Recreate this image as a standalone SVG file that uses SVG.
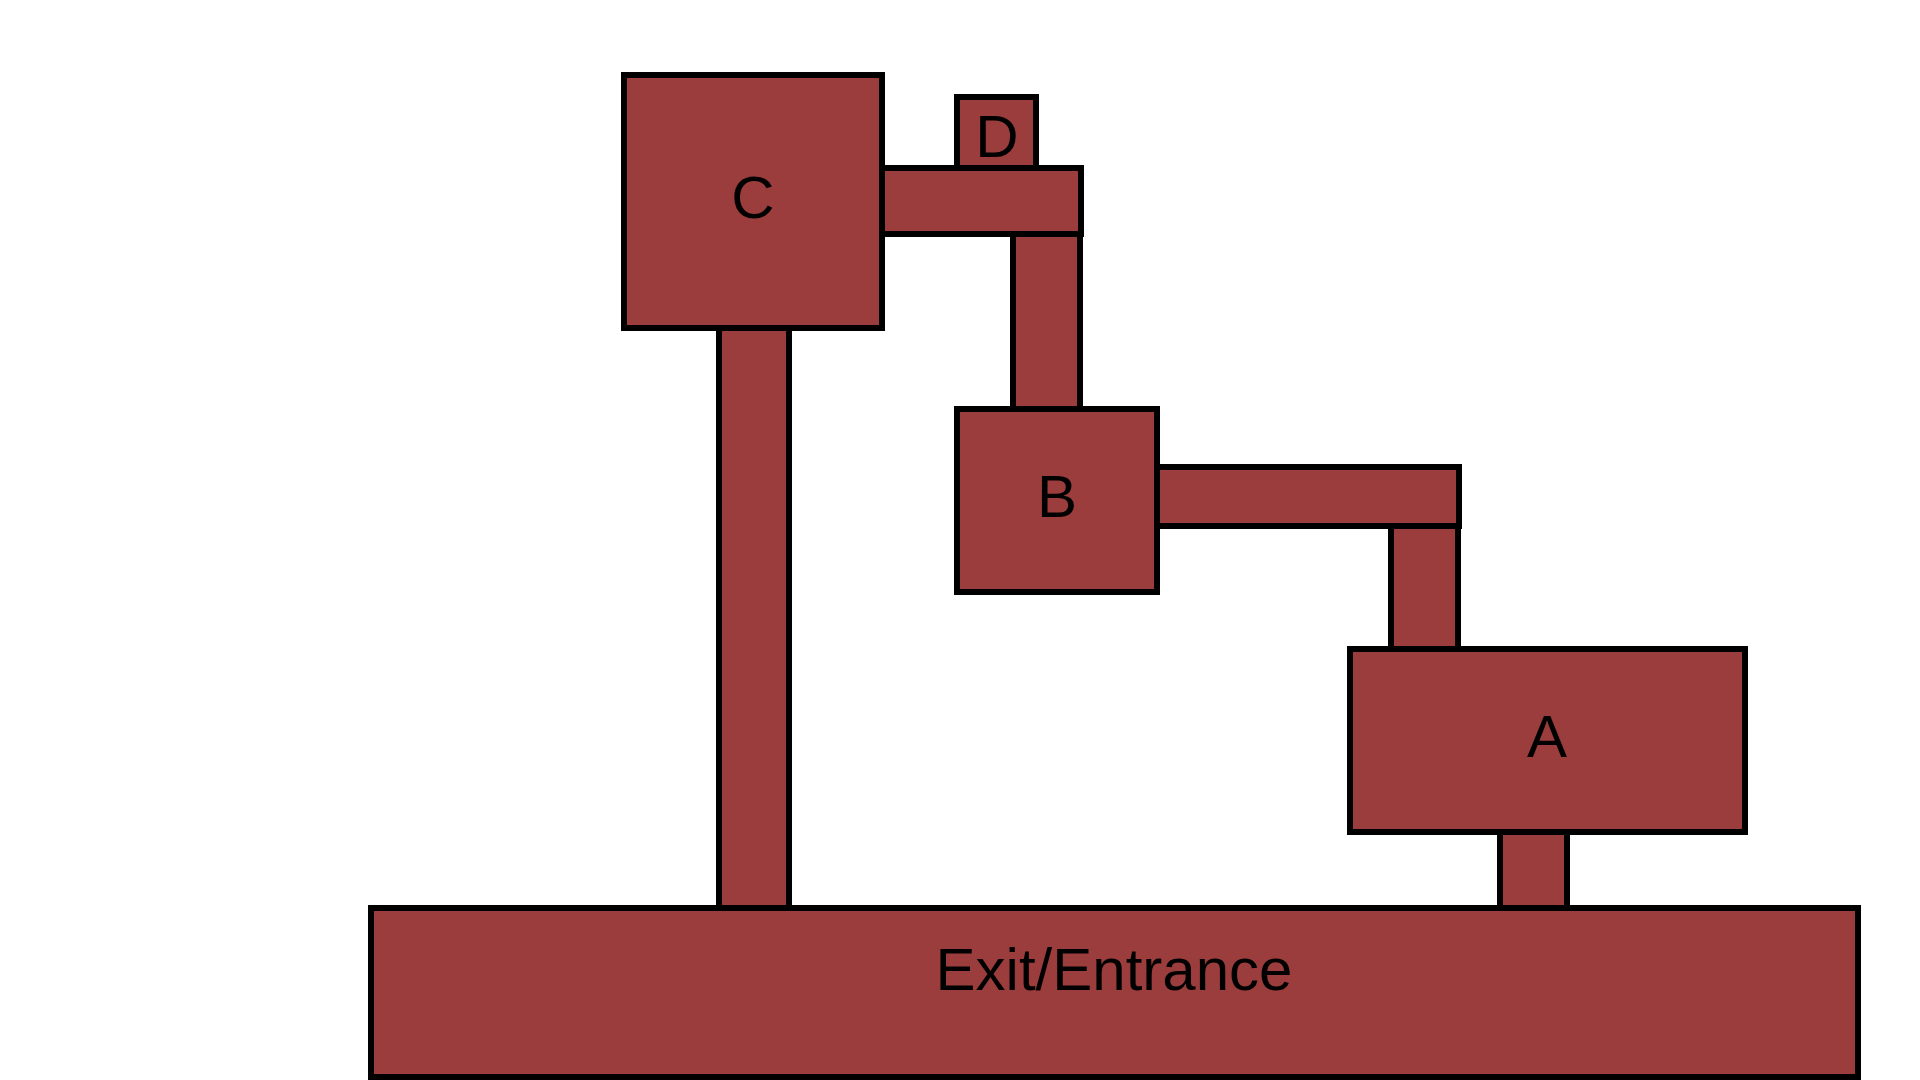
<svg xmlns="http://www.w3.org/2000/svg" width="1920" height="1080" viewBox="0 0 1920 1080">
<style>
.room{fill:#9c3d3d;stroke:#000;stroke-width:6}
.lbl{font-family:"Liberation Sans",Arial,sans-serif;font-size:60px;fill:#000;text-anchor:middle}
</style>
<rect width="1920" height="1080" fill="#fff"/>
<g id="connectors">
<rect class="room" x="719" y="328" width="70" height="580"/>
<rect class="room" x="1013" y="234" width="67" height="175"/>
<rect class="room" x="882" y="168" width="199" height="66"/>
<rect class="room" x="1391" y="526" width="67" height="123"/>
<rect class="room" x="1157" y="467" width="302" height="59"/>
<rect class="room" x="1500" y="832" width="67" height="76"/>
</g>
<g id="C"><rect class="room" x="624" y="75" width="258" height="253"/><text class="lbl" x="753" y="218">C</text></g>
<g id="D"><rect class="room" x="957" y="97" width="79" height="71"/><text class="lbl" x="997" y="157">D</text></g>
<g id="B"><rect class="room" x="957" y="409" width="200" height="183"/><text class="lbl" x="1057" y="517">B</text></g>
<g id="A"><rect class="room" x="1350" y="649" width="395" height="183"/><text class="lbl" x="1547" y="757">A</text></g>
<g id="exit"><rect class="room" x="371" y="908" width="1487" height="169"/><text class="lbl" x="1114" y="990">Exit/Entrance</text></g>
</svg>
